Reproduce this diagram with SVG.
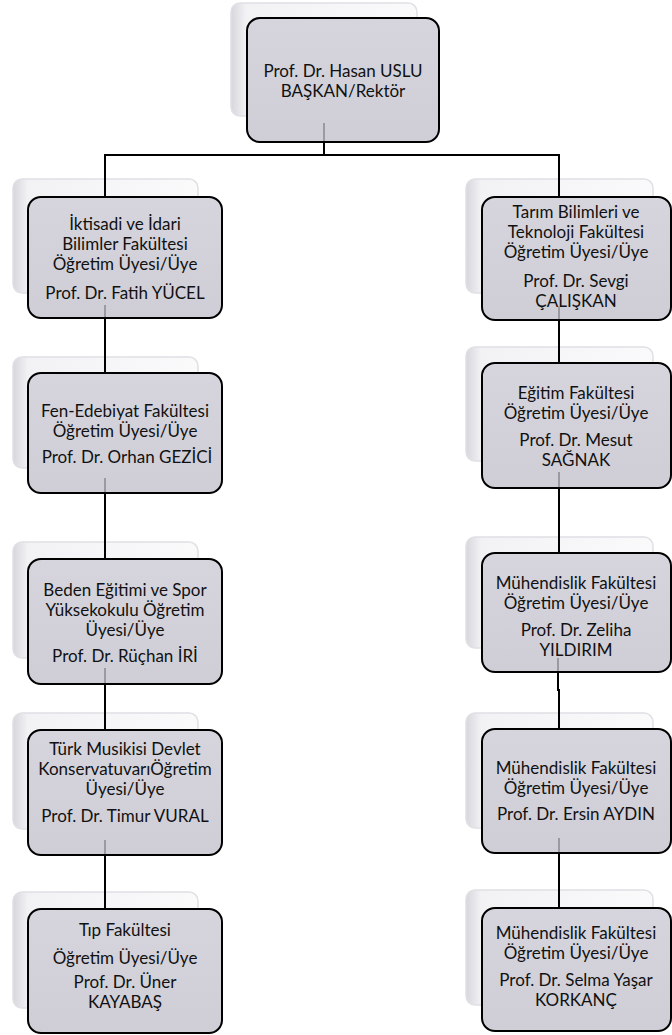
<svg xmlns="http://www.w3.org/2000/svg" width="672" height="1035" viewBox="0 0 672 1035">
<defs>
<linearGradient id="shg" x1="0" y1="0" x2="1" y2="0">
<stop offset="0" stop-color="#D6D6DC"/>
<stop offset="0.08" stop-color="#F2F2F5"/>
<stop offset="1" stop-color="#FAFAFB"/>
</linearGradient>
<linearGradient id="fg" x1="0" y1="0" x2="0" y2="1">
<stop offset="0" stop-color="#D6D5DD"/>
<stop offset="1" stop-color="#CFCED7"/>
</linearGradient>
<style>
.sh{fill:url(#shg);stroke:#E0E0E5;stroke-width:1.5}
.fr{fill:url(#fg);stroke:#000;stroke-width:2}
.t{font-family:Lato,"Liberation Sans",sans-serif;font-size:17px;fill:#111;text-anchor:middle}
.c{stroke:#000;stroke-width:2;fill:none}
.g{stroke:#9A9AA0;stroke-width:2;fill:none}
</style>
</defs>
<rect width="672" height="1035" fill="#fff"/>

<g id="top">
<rect class="sh" x="231" y="3" width="186" height="113" rx="9"/>
<rect class="fr" x="247" y="18" width="192" height="124" rx="13"/>
<text class="t" x="343" y="77">Prof. Dr. Hasan USLU</text>
<text class="t" x="343" y="97">BAŞKAN/Rektör</text>
</g>

<g id="left1">
<rect class="sh" x="13" y="179" width="185" height="114" rx="9"/>
<rect class="fr" x="28" y="197" width="194" height="121" rx="13"/>
<text class="t" x="125" y="230">İktisadi ve İdari</text>
<text class="t" x="125" y="250">Bilimler Fakültesi</text>
<text class="t" x="125" y="270">Öğretim Üyesi/Üye</text>
<text class="t" x="125" y="299">Prof. Dr.  Fatih YÜCEL</text>
</g>

<g id="left2">
<rect class="sh" x="13" y="357" width="185" height="111" rx="9"/>
<rect class="fr" x="28" y="373" width="194" height="120" rx="13"/>
<text class="t" x="125" y="417">Fen-Edebiyat Fakültesi</text>
<text class="t" x="125" y="437">Öğretim Üyesi/Üye</text>
<text class="t" x="127" y="463">Prof. Dr. Orhan GEZİCİ</text>
</g>

<g id="left3">
<rect class="sh" x="13" y="542" width="185" height="116" rx="9"/>
<rect class="fr" x="28" y="559" width="194" height="125" rx="13"/>
<text class="t" x="125" y="596">Beden Eğitimi ve Spor</text>
<text class="t" x="125" y="616">Yüksekokulu Öğretim</text>
<text class="t" x="125" y="636">Üyesi/Üye</text>
<text class="t" x="125" y="662">Prof. Dr. Rüçhan İRİ</text>
</g>

<g id="left4">
<rect class="sh" x="13" y="713" width="185" height="116" rx="9"/>
<rect class="fr" x="28" y="730" width="194" height="125" rx="13"/>
<text class="t" x="125" y="755">Türk Musikisi Devlet</text>
<text class="t" x="125" y="775">KonservatuvarıÖğretim</text>
<text class="t" x="125" y="795">Üyesi/Üye</text>
<text class="t" x="125" y="822">Prof. Dr. Timur VURAL</text>
</g>

<g id="left5">
<rect class="sh" x="13" y="892" width="185" height="116" rx="9"/>
<rect class="fr" x="28" y="909" width="194" height="124" rx="13"/>
<text class="t" x="125" y="936">Tıp Fakültesi</text>
<text class="t" x="125" y="964">Öğretim Üyesi/Üye</text>
<text class="t" x="125" y="988">Prof. Dr. Üner</text>
<text class="t" x="125" y="1008">KAYABAŞ</text>
</g>

<g id="right1">
<rect class="sh" x="466" y="179" width="187" height="114" rx="9"/>
<rect class="fr" x="482" y="197" width="189" height="123" rx="13"/>
<text class="t" x="576" y="218">Tarım Bilimleri ve</text>
<text class="t" x="576" y="238">Teknoloji Fakültesi</text>
<text class="t" x="576" y="258">Öğretim Üyesi/Üye</text>
<text class="t" x="576" y="287">Prof. Dr. Sevgi</text>
<text class="t" x="576" y="307">ÇALIŞKAN</text>
</g>

<g id="right2">
<rect class="sh" x="466" y="347" width="187" height="114" rx="9"/>
<rect class="fr" x="482" y="363" width="189" height="125" rx="13"/>
<text class="t" x="576" y="399">Eğitim Fakültesi</text>
<text class="t" x="576" y="419">Öğretim Üyesi/Üye</text>
<text class="t" x="576" y="446">Prof. Dr. Mesut</text>
<text class="t" x="576" y="466">SAĞNAK</text>
</g>

<g id="right3">
<rect class="sh" x="466" y="537" width="187" height="111" rx="9"/>
<rect class="fr" x="482" y="553" width="189" height="119" rx="13"/>
<text class="t" x="576" y="589">Mühendislik Fakültesi</text>
<text class="t" x="576" y="609">Öğretim Üyesi/Üye</text>
<text class="t" x="576" y="636">Prof. Dr. Zeliha</text>
<text class="t" x="576" y="656">YILDIRIM</text>
</g>

<g id="right4">
<rect class="sh" x="466" y="713" width="187" height="115" rx="9"/>
<rect class="fr" x="482" y="729" width="189" height="124" rx="13"/>
<text class="t" x="576" y="774">Mühendislik Fakültesi</text>
<text class="t" x="576" y="794">Öğretim Üyesi/Üye</text>
<text class="t" x="576" y="820">Prof. Dr. Ersin AYDIN</text>
</g>

<g id="right5">
<rect class="sh" x="466" y="890" width="187" height="115" rx="9"/>
<rect class="fr" x="482" y="908" width="189" height="123" rx="13"/>
<text class="t" x="576" y="939">Mühendislik Fakültesi</text>
<text class="t" x="576" y="959">Öğretim Üyesi/Üye</text>
<text class="t" x="576" y="986">Prof. Dr. Selma Yaşar</text>
<text class="t" x="576" y="1006">KORKANÇ</text>
</g>

<g id="connectors">
<path class="c" d="M324 142V155M105 197V155H559V197"/>
<path class="c" d="M105 318V373M105 493V559M105 684V730M105 855V909"/>
<path class="c" d="M559 320V363M559 488V553M558 672V690H559V729M559 853V908"/>
<path class="g" d="M324 123V141M105 305V317M105 478V492M105 668V683M105 840V854M559 306V319M559 472V487M558 658V671M559 838V852"/>
</g>
</svg>
